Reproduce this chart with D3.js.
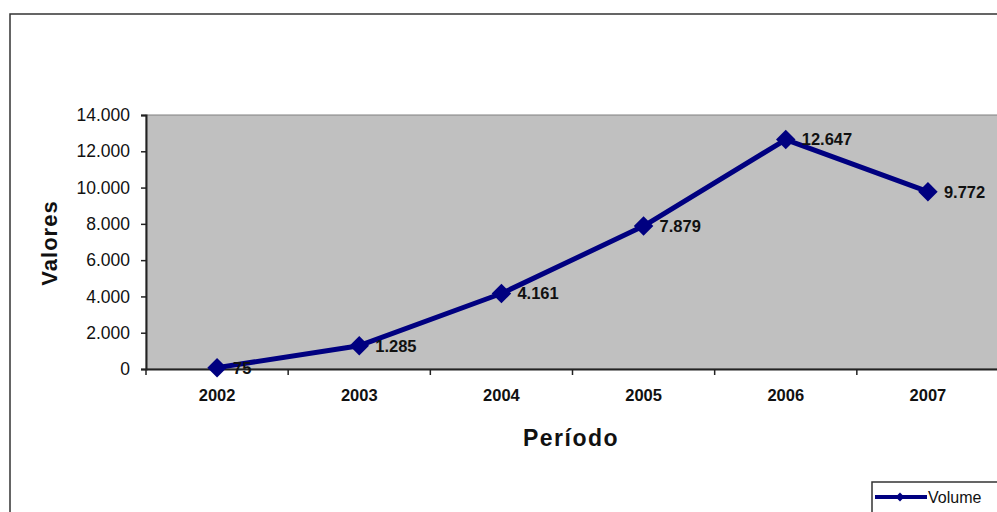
<!DOCTYPE html>
<html>
<head>
<meta charset="utf-8">
<script src="https://cdn.jsdelivr.net/npm/d3@7"></script>
<style>
  html, body { margin: 0; padding: 0; background: #fff; }
  svg { display: block; font-family: "Liberation Sans", Arial, sans-serif; }
</style>
</head>
<body>
<svg id="chart" width="997" height="512"></svg>
<script>
// Volume per year
const years = ["2002", "2003", "2004", "2005", "2006", "2007"];
const volume = [75, 1285, 4161, 7879, 12647, 9772];
const yTicks = [0, 2000, 4000, 6000, 8000, 10000, 12000, 14000];
const seriesName = "Volume";
const xTitle = "Período";
const yTitle = "Valores";

const svg = d3.select("#chart");
const W = 997, H = 512;
const plot = { left: 146, top: 115, right: 999, bottom: 369 };

const ptBR = d3.formatLocale({ decimal: ",", thousands: ".", grouping: [3], currency: ["R$", ""] });
const fmt = ptBR.format(",d");

const x = d3.scaleBand().domain(years).range([plot.left, plot.right]).paddingInner(0).paddingOuter(0);
const y = d3.scaleLinear().domain([0, 14000]).range([plot.bottom, plot.top]);
const cx = d => x(d) + x.bandwidth() / 2;

// outer chart frame (runs off the right and bottom)
svg.append("rect")
  .attr("x", 10).attr("y", 14)
  .attr("width", W + 20).attr("height", H + 20)
  .attr("fill", "#fff").attr("stroke", "#333").attr("stroke-width", 1.5);

// plot area
svg.append("rect")
  .attr("x", plot.left).attr("y", plot.top)
  .attr("width", plot.right - plot.left).attr("height", plot.bottom - plot.top)
  .attr("fill", "#c0c0c0").attr("stroke", "#808080").attr("stroke-width", 1);

// y axis
const yAxis = svg.append("g")
  .attr("transform", `translate(${plot.left},0)`)
  .call(d3.axisLeft(y).tickValues(yTicks).tickFormat(fmt).tickSize(5).tickPadding(11));
yAxis.select(".domain").attr("stroke", "#222").attr("stroke-width", 2);
yAxis.selectAll(".tick line").attr("stroke", "#222").attr("stroke-width", 1.5);
yAxis.selectAll(".tick text")
  .attr("font-family", "Liberation Sans, Arial, sans-serif")
  .attr("font-size", 17.5).attr("fill", "#111");

// x axis: labels centered in categories, ticks on category boundaries
const xAxis = svg.append("g")
  .attr("transform", `translate(0,${plot.bottom})`)
  .call(d3.axisBottom(x).tickSize(0).tickPadding(20));
xAxis.select(".domain").attr("stroke", "#222").attr("stroke-width", 2);
xAxis.selectAll(".tick text")
  .attr("font-family", "Liberation Sans, Arial, sans-serif")
  .attr("font-size", 16.5).attr("font-weight", "bold").attr("fill", "#111");
svg.append("g").selectAll("line")
  .data(years.map(d => x(d)).concat([plot.right]))
  .join("line")
  .attr("x1", d => d).attr("x2", d => d)
  .attr("y1", plot.bottom).attr("y2", plot.bottom + 6)
  .attr("stroke", "#222").attr("stroke-width", 1.5);

// axis titles
svg.append("text")
  .attr("x", 571).attr("y", 446)
  .attr("text-anchor", "middle")
  .attr("font-size", 23).attr("font-weight", "bold")
  .attr("letter-spacing", 1.5)
  .attr("fill", "#111")
  .text(xTitle);
svg.append("text")
  .attr("transform", "translate(57,243) rotate(-90)")
  .attr("text-anchor", "middle")
  .attr("font-size", 22).attr("font-weight", "bold")
  .attr("letter-spacing", 1)
  .attr("fill", "#111")
  .text(yTitle);

// series line
const navy = "#000080";
const line = d3.line().x((d, i) => cx(years[i])).y(d => y(d));
svg.append("path")
  .datum(volume)
  .attr("d", line)
  .attr("fill", "none").attr("stroke", navy)
  .attr("stroke-width", 5).attr("stroke-linejoin", "round");

// diamond markers
const diamond = d3.symbol().type(d3.symbolDiamond2).size(2 * 11 * 11 * 0.5 * 2);
svg.append("g").selectAll("path")
  .data(volume)
  .join("path")
  .attr("transform", (d, i) => `translate(${cx(years[i])},${y(d)})`)
  .attr("d", diamond)
  .attr("fill", navy);

// value labels
svg.append("g").selectAll("text")
  .data(volume)
  .join("text")
  .attr("x", (d, i) => cx(years[i]) + 16)
  .attr("y", d => y(d))
  .attr("dy", "0.36em")
  .attr("font-size", 16.5).attr("font-weight", "bold").attr("fill", "#111")
  .text(d => fmt(d));

// legend
const lg = svg.append("g").attr("transform", "translate(872,482)");
lg.append("rect")
  .attr("x", 0).attr("y", 0).attr("width", 140).attr("height", 60)
  .attr("fill", "#fff").attr("stroke", "#333").attr("stroke-width", 1.5);
lg.append("line")
  .attr("x1", 3).attr("x2", 55).attr("y1", 15).attr("y2", 15)
  .attr("stroke", navy).attr("stroke-width", 4);
lg.append("path")
  .attr("transform", "translate(28,15)")
  .attr("d", d3.symbol().type(d3.symbolDiamond2).size(50))
  .attr("fill", navy);
lg.append("text")
  .attr("x", 56).attr("y", 15).attr("dy", "0.36em")
  .attr("font-size", 16).attr("fill", "#111")
  .text(seriesName);
</script>
</body>
</html>
